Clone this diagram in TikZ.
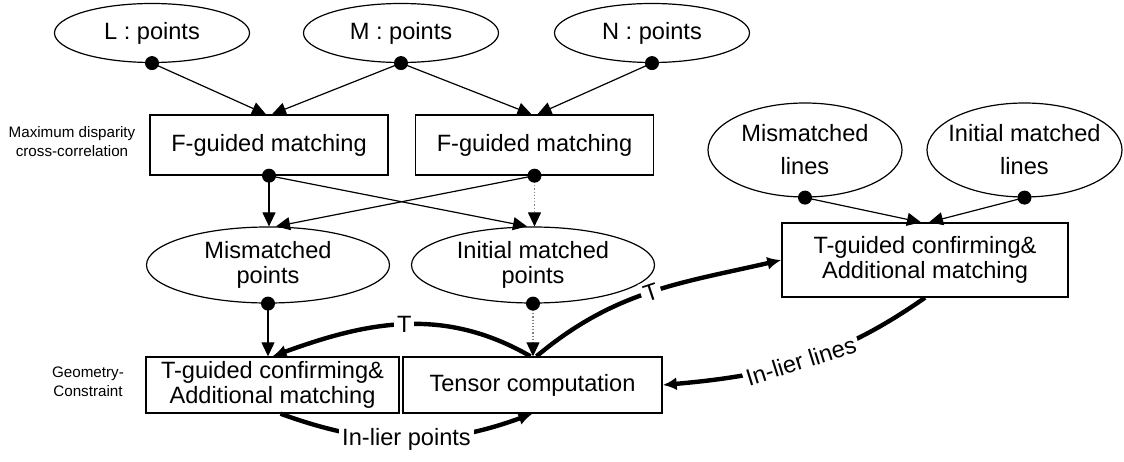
\documentclass[tikz,border=0pt]{standalone}
\usepackage{fontspec}
\setmainfont{Liberation Sans}
\usetikzlibrary{shapes.geometric,arrows.meta}

\begin{document}
\begin{tikzpicture}[x=0.5pt,y=0.5pt]
\tikzstyle{every node}+=[inner sep=0pt,font=\fontsize{11.8}{12.5}\selectfont]
\tikzstyle{blob}=[draw,ellipse,line width=0.6pt,inner xsep=-12pt,align=center]
\tikzstyle{stage}=[draw,rectangle,line width=0.7pt,align=center]
\tikzstyle{side}=[align=center,font=\fontsize{7.6}{9.5}\selectfont]
\tikzstyle{feed}=[line width=0.6pt,-{Triangle[length=7pt,width=6.5pt]}]
\tikzstyle{faint}=[line width=0.6pt,gray,densely dotted,-{Triangle[length=7pt,width=6.5pt,color=black]}]
\tikzstyle{flow}=[line width=2.2pt,-{Latex[length=7pt,width=6.5pt]}]
\tikzstyle{tag}=[fill=white,inner sep=1.5pt]
\useasboundingbox (0,0) rectangle (1124,461);
\node[blob,minimum width=97.5pt,minimum height=29.5pt] (L) at (152,428) {L : points};
\node[blob,minimum width=97.5pt,minimum height=29.5pt] (M) at (401,428) {M : points};
\node[blob,minimum width=97.5pt,minimum height=29.5pt] (N) at (652,428) {N : points};
\node[stage,minimum width=119pt,minimum height=30pt] (FL) at (269,316) {F-guided matching};
\node[stage,minimum width=119pt,minimum height=30pt] (FR) at (534.5,316) {F-guided matching};
\node[blob,minimum width=121.5pt,minimum height=38pt] (MP) at (268,196) {Mismatched\\points};
\node[blob,minimum width=121.5pt,minimum height=38pt] (IP) at (533,196) {Initial matched\\points};
\node[stage,minimum width=126.5pt,minimum height=28pt] (TL) at (272.5,76) {T-guided confirming\&\\Additional matching};
\node[stage,minimum width=129.5pt,minimum height=28pt] (TC) at (532.5,76) {Tensor computation};
\node[blob,minimum width=97pt,minimum height=47pt] (ML) at (805,311) {Mismatched\\[4pt]lines};
\node[blob,minimum width=97.5pt,minimum height=47pt] (IL) at (1024.5,311) {Initial matched\\[4pt]lines};
\node[stage,minimum width=143pt,minimum height=37pt] (TR) at (925,201) {T-guided confirming\&\\Additional matching};
\node[side] (md) at (72,319.5) {Maximum disparity\\cross-correlation};
\node[side] (gc) at (88,79) {Geometry-\\Constraint};
\draw[feed] (L.south) -- ([xshift=-1.5pt]FL.north);
\draw[feed] (M.south) -- ([xshift=1.5pt]FL.north);
\draw[feed] (M.south) -- ([xshift=-1.5pt]FR.north);
\draw[feed] (N.south) -- ([xshift=1.5pt]FR.north);
\draw[feed] (FL.south) -- (FL.south |- MP.north);
\draw[feed] (FR.south) -- ([xshift=4pt]MP.north);
\draw[feed] (FL.south) -- ([xshift=-3pt]IP.north);
\draw[faint] (FR.south) -- (FR.south |- IP.north);
\draw[feed] (MP.south) -- (MP.south |- TL.north);
\draw[faint] (IP.south) -- (IP.south |- TC.north);
\draw[feed] (ML.south) -- ([xshift=-2pt]TR.north);
\draw[feed] (IL.south) -- ([xshift=2pt]TR.north);
\draw[flow] ([xshift=-1pt]TC.north) to[out=150,in=20] node[tag] {T} (TL.north);
\draw[flow] ([xshift=2pt]TC.north) to[out=40,in=193] node[tag,sloped] {T} (TR.west);
\draw[flow] ([xshift=4pt]TL.south) to[out=-20,in=200] node[tag] {In-lier points} (TC.south);
\draw[flow] (TR.south) to[out=215,in=5] node[tag,sloped] {In-lier lines} (TC.east);
\foreach \n in {L,M,N,FL,FR,MP,IP,ML,IL}
  \fill (\n.south) circle (3.5pt);
\end{tikzpicture}
\end{document}
